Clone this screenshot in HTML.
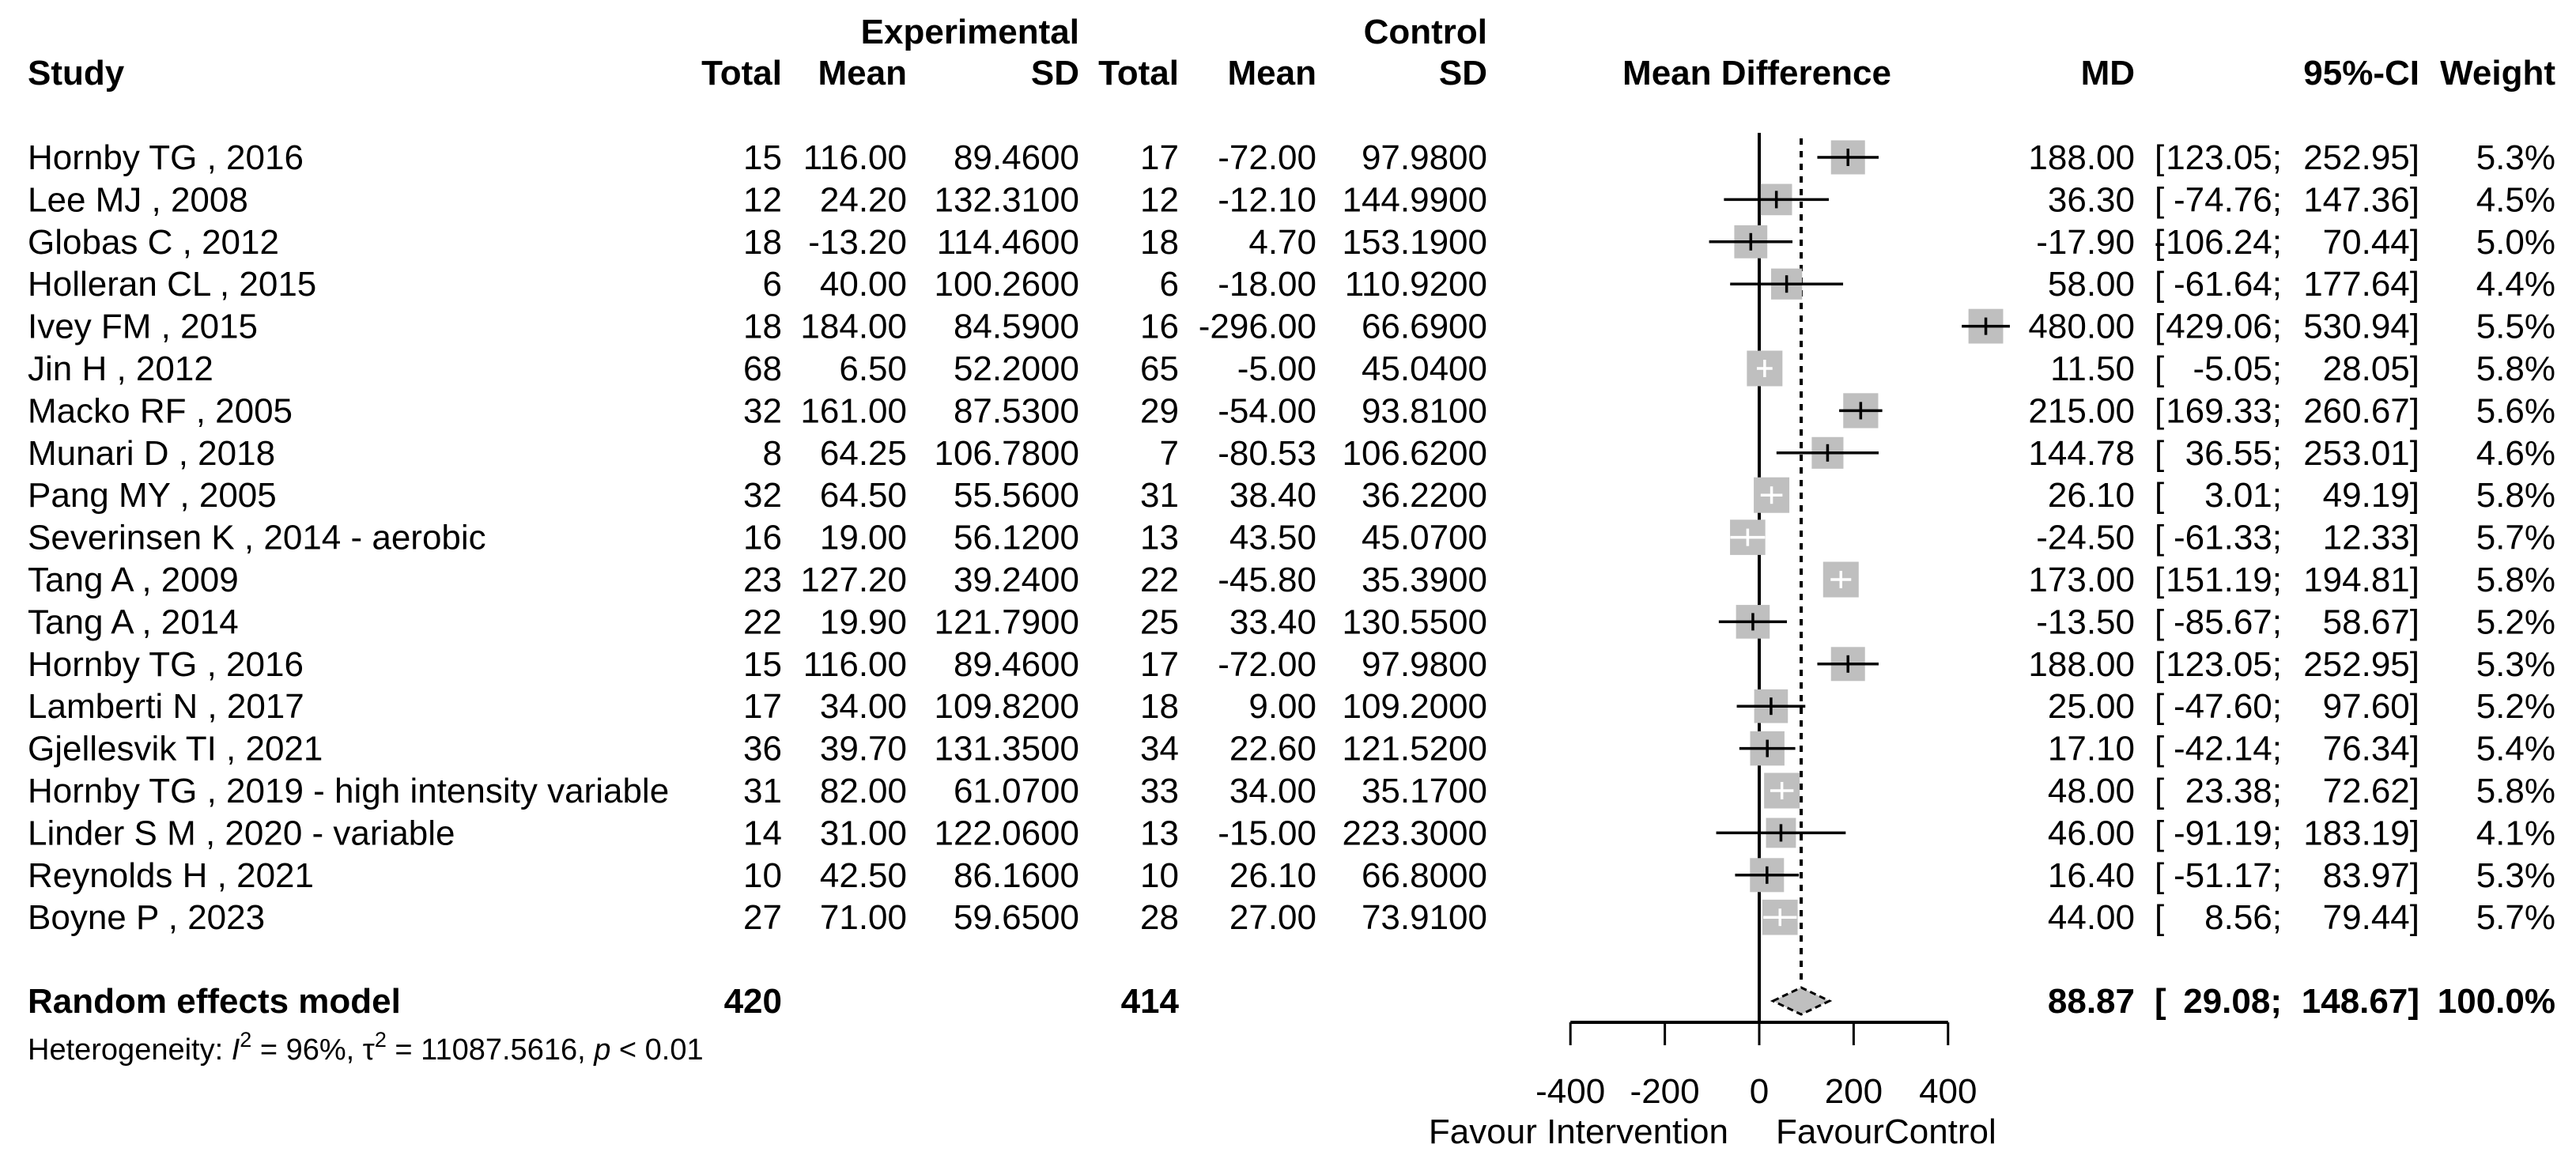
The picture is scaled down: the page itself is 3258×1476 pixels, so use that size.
<!DOCTYPE html>
<html><head><meta charset="utf-8"><style>
html,body{margin:0;padding:0;background:#fff;}
svg{display:block;font-family:"Liberation Sans",Arial,sans-serif;}
</style></head><body>
<svg id="plot" width="3258" height="1476" viewBox="0 0 3258 1476" xmlns="http://www.w3.org/2000/svg">
<g font-weight="bold" font-size="44" fill="#000">
<text x="1365" y="55" text-anchor="end">Experimental</text>
<text x="1881" y="55" text-anchor="end">Control</text>
<text x="35" y="107">Study</text>
<text x="989" y="107" text-anchor="end">Total</text>
<text x="1147" y="107" text-anchor="end">Mean</text>
<text x="1365" y="107" text-anchor="end">SD</text>
<text x="1491" y="107" text-anchor="end">Total</text>
<text x="1665" y="107" text-anchor="end">Mean</text>
<text x="1881" y="107" text-anchor="end">SD</text>
<text x="2222" y="107" text-anchor="middle">Mean Difference</text>
<text x="2700" y="107" text-anchor="end">MD</text>
<text x="3060" y="107" text-anchor="end">95%-CI</text>
<text x="3232" y="107" text-anchor="end">Weight</text>
</g>
<g id="rows" font-size="44" fill="#000"></g>
<g id="marks"></g>
</svg>
<script>
const studies=["Hornby TG , 2016","Lee MJ , 2008","Globas C , 2012","Holleran CL , 2015","Ivey FM , 2015","Jin H , 2012","Macko RF , 2005","Munari D , 2018","Pang MY , 2005","Severinsen K , 2014 - aerobic","Tang A , 2009","Tang A , 2014","Hornby TG , 2016","Lamberti N , 2017","Gjellesvik TI , 2021","Hornby TG , 2019 - high intensity variable","Linder S M  , 2020 - variable","Reynolds H , 2021","Boyne P , 2023"];
const expTotal=[15,12,18,6,18,68,32,8,32,16,23,22,15,17,36,31,14,10,27];
const expMean=["116.00","24.20","-13.20","40.00","184.00","6.50","161.00","64.25","64.50","19.00","127.20","19.90","116.00","34.00","39.70","82.00","31.00","42.50","71.00"];
const expSD=["89.4600","132.3100","114.4600","100.2600","84.5900","52.2000","87.5300","106.7800","55.5600","56.1200","39.2400","121.7900","89.4600","109.8200","131.3500","61.0700","122.0600","86.1600","59.6500"];
const ctrlTotal=[17,12,18,6,16,65,29,7,31,13,22,25,17,18,34,33,13,10,28];
const ctrlMean=["-72.00","-12.10","4.70","-18.00","-296.00","-5.00","-54.00","-80.53","38.40","43.50","-45.80","33.40","-72.00","9.00","22.60","34.00","-15.00","26.10","27.00"];
const ctrlSD=["97.9800","144.9900","153.1900","110.9200","66.6900","45.0400","93.8100","106.6200","36.2200","45.0700","35.3900","130.5500","97.9800","109.2000","121.5200","35.1700","223.3000","66.8000","73.9100"];
const md=[188.00,36.30,-17.90,58.00,480.00,11.50,215.00,144.78,26.10,-24.50,173.00,-13.50,188.00,25.00,17.10,48.00,46.00,16.40,44.00];
const lower=[123.05,-74.76,-106.24,-61.64,429.06,-5.05,169.33,36.55,3.01,-61.33,151.19,-85.67,123.05,-47.60,-42.14,23.38,-91.19,-51.17,8.56];
const upper=[252.95,147.36,70.44,177.64,530.94,28.05,260.67,253.01,49.19,12.33,194.81,58.67,252.95,97.60,76.34,72.62,183.19,83.97,79.44];
const weight=[5.3,4.5,5.0,4.4,5.5,5.8,5.6,4.6,5.8,5.7,5.8,5.2,5.3,5.2,5.4,5.8,4.1,5.3,5.7];
const pooled=[88.87,29.08,148.67];
const pooledTotals=[420,414];
const xTicks=[-400,-200,0,200,400];

const NS="http://www.w3.org/2000/svg";
const X0=2225, PX=0.597;
const xs=v=>X0+v*PX;
const rowY=i=>199+i*53.4;
const rows=document.getElementById('rows');
const marks=document.getElementById('marks');
function mk(parent,tag,attrs,txt){const e=document.createElementNS(NS,tag);for(const k in attrs)e.setAttribute(k,attrs[k]);if(txt!==undefined)e.textContent=txt;parent.appendChild(e);return e;}
function txt(parent,x,y,s,anchor,name,extra){const t=mk(parent,'text',Object.assign({x:x,y:y,'text-anchor':anchor||'start'},extra||{}),s);


return t;}
const f2=v=>v.toFixed(2);
studies.forEach((s,i)=>{
  const y=rowY(i)+15;
  txt(rows,35,y,s,'start','study-label');
  txt(rows,989,y,String(expTotal[i]),'end','exp-total');
  txt(rows,1147,y,expMean[i],'end','exp-mean');
  txt(rows,1365,y,expSD[i],'end','exp-sd');
  txt(rows,1491,y,String(ctrlTotal[i]),'end','ctrl-total');
  txt(rows,1665,y,ctrlMean[i],'end','ctrl-mean');
  txt(rows,1881,y,ctrlSD[i],'end','ctrl-sd');
  txt(rows,2700,y,f2(md[i]),'end','md-value');
  txt(rows,2725,y,'[','start','ci-bracket');
  txt(rows,2886,y,f2(lower[i])+';','end','ci-lower');
  txt(rows,3060,y,f2(upper[i])+']','end','ci-upper');
  txt(rows,3232,y,weight[i].toFixed(1)+'%','end','weight-value');
});
const py=1266;
txt(rows,35,py+15,'Random effects model','start','pooled-label',{'font-weight':'bold'});
txt(rows,989,py+15,String(pooledTotals[0]),'end','pooled-exp-total',{'font-weight':'bold'});
txt(rows,1491,py+15,String(pooledTotals[1]),'end','pooled-ctrl-total',{'font-weight':'bold'});
txt(rows,2700,py+15,f2(pooled[0]),'end','pooled-md',{'font-weight':'bold'});
txt(rows,2725,py+15,'[','start','pooled-ci-bracket',{'font-weight':'bold'});
txt(rows,2886,py+15,f2(pooled[1])+';','end','pooled-ci-lower',{'font-weight':'bold'});
txt(rows,3060,py+15,f2(pooled[2])+']','end','pooled-ci-upper',{'font-weight':'bold'});
txt(rows,3232,py+15,'100.0%','end','pooled-weight',{'font-weight':'bold'});
const het=mk(rows,'text',{x:35,y:1340,'font-size':'38'});


het.innerHTML='Heterogeneity: <tspan font-style="italic">I</tspan><tspan dy="-16" font-size="27">2</tspan><tspan dy="16"> = 96%, τ</tspan><tspan dy="-16" font-size="27">2</tspan><tspan dy="16"> = 11087.5616, </tspan><tspan font-style="italic">p</tspan> &lt; 0.01';

const zl=mk(marks,'line',{x1:xs(0),x2:xs(0),y1:168,y2:1293,stroke:'#000','stroke-width':4});


const dl=mk(marks,'line',{x1:xs(pooled[0]),x2:xs(pooled[0]),y1:175,y2:py-20,stroke:'#000','stroke-width':4,'stroke-dasharray':'8 8'});



studies.forEach((s,i)=>{
  const y=rowY(i);
  const side=45*Math.sqrt(weight[i]/5.8);
  const cx=xs(md[i]);
  const r=mk(marks,'rect',{x:cx-side/2,y:y-side/2,width:side,height:side,fill:'#bfbfbf'});
  
  
  const inside=xs(lower[i])>=cx-side/2 && xs(upper[i])<=cx+side/2;
  const col=inside?'#fff':'#000';
  const l=mk(marks,'line',{x1:xs(lower[i]),x2:xs(upper[i]),y1:y,y2:y,stroke:col,'stroke-width':3.5});
  
  
  const t=mk(marks,'line',{x1:cx,x2:cx,y1:y-11,y2:y+11,stroke:col,'stroke-width':3.5});
  
  
});
const dm=mk(marks,'polygon',{points:`${xs(pooled[1])},${py} ${xs(pooled[0])},${py-17} ${xs(pooled[2])},${py} ${xs(pooled[0])},${py+17}`,fill:'#bfbfbf',stroke:'#000','stroke-width':3,'stroke-dasharray':'8 5'});



const ax=mk(marks,'line',{x1:xs(xTicks[0]),x2:xs(xTicks[xTicks.length-1]),y1:1293,y2:1293,stroke:'#000','stroke-width':4});


xTicks.forEach(v=>{
  const tk=mk(marks,'line',{x1:xs(v),x2:xs(v),y1:1293,y2:1322,stroke:'#000','stroke-width':3});
  
  
  const tl=mk(marks,'text',{x:xs(v),y:1395,'text-anchor':'middle','font-size':'44'},String(v));
  
  
});
const fl=mk(marks,'text',{x:2186,y:1446,'text-anchor':'end','font-size':'44'},'Favour Intervention');


const fr=mk(marks,'text',{x:2246,y:1446,'text-anchor':'start','font-size':'44'},'FavourControl');


</script>
</body></html>
